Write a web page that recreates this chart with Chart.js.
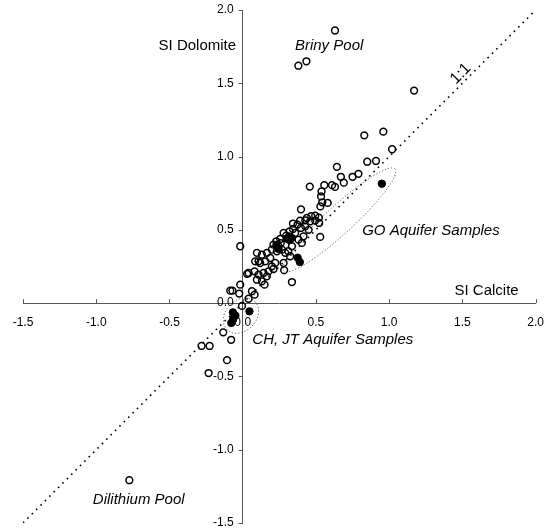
<!DOCTYPE html>
<html><head><meta charset="utf-8">
<script src="https://cdn.jsdelivr.net/npm/chart.js@4/dist/chart.umd.min.js"></script>
<style>html,body{margin:0;padding:0;background:#fff}#wrap{width:548px;height:530px}</style>
</head><body><div id="wrap"><canvas id="c" width="548" height="530"></canvas></div>
<script>
// ---- data ----
const axisTicks = [-1.5, -1.0, -0.5, 0.0, 0.5, 1.0, 1.5, 2.0];

const openX = [0.63,0.38,0.435,1.17,0.83,0.96,1.02,0.85,0.91,0.643,0.67,0.75,0.79,0.69,0.458,0.557,0.61,0.63,0.538,0.535,0.543,0.58,0.53,0.398,
  0.468,0.495,0.438,0.427,0.461,0.495,0.522,0.392,0.343,0.374,0.397,0.427,0.343,0.32,0.279,0.297,0.358,0.529,0.415,0.381,0.404,0.336,
  0.256,0.229,0.21,0.244,0.199,0.233,0.268,0.29,0.324,0.165,0.131,0.097,0.188,0.154,0.108,0.222,0.279,0.199,
  -0.017,0.085,0.119,0.04,0.03,0.081,0.108,0.142,0.097,0.131,0.165,0.176,0.21,0.149,-0.017,-0.085,-0.07,-0.024,0.063,0.081,0.04,
  0.283,0.336,-0.005,-0.133,-0.079,-0.281,-0.226,-0.107,-0.233,-0.774,0.311,0.26,0.45,0.52];
const openY = [1.86,1.62,1.65,1.45,1.145,1.17,1.05,0.965,0.97,0.93,0.862,0.862,0.882,0.822,0.795,0.805,0.805,0.793,0.762,0.728,0.688,0.684,0.66,0.64,
  0.593,0.597,0.581,0.565,0.558,0.563,0.547,0.563,0.543,0.536,0.513,0.524,0.506,0.49,0.479,0.461,0.479,0.452,0.456,0.433,0.411,0.388,
  0.438,0.422,0.399,0.388,0.365,0.354,0.365,0.343,0.32,0.343,0.331,0.343,0.308,0.285,0.285,0.274,0.274,0.251,
  0.388,0.285,0.274,0.206,0.2,0.217,0.195,0.206,0.16,0.149,0.183,0.217,0.233,0.126,0.126,0.085,0.085,0.065,0.081,0.058,0.03,
  0.225,0.144,-0.019,-0.199,-0.25,-0.292,-0.292,-0.389,-0.477,-1.208,0.354,0.41,0.50,0.583];

const filledX = [0.95,0.375,0.39,0.30,0.32,0.335,0.315,0.23,0.245,-0.067,-0.05,-0.078,-0.065,0.046];
const filledY = [0.815,0.31,0.28,0.44,0.43,0.445,0.455,0.395,0.37,-0.063,-0.085,-0.135,-0.11,-0.056];

const oneToOneX = [-1.5, 2.0];
const oneToOneY = [-1.5, 2.0];

// ellipses: centre x, centre y, semi-major, semi-minor, angle (deg, data space)
const ellipseCx = [0.66, -0.012];
const ellipseCy = [0.568, -0.085];
const ellipseA = [0.515, 0.135];
const ellipseB = [0.095, 0.104];
const ellipseAngle = [42.5, 45];

const noteText = ['SI Dolomite','Briny Pool','SI Calcite','GO Aquifer Samples','CH, JT Aquifer Samples','Dilithium Pool','1:1'];
const noteX = [-0.31, 0.59, 1.665, 1.285, 0.615, -0.71, 1.488];
const noteY = [1.755, 1.755, 0.085, 0.495, -0.25, -1.345, 1.565];
const noteItalic = [false, true, false, true, true, true, false];
const noteRotate = [0, 0, 0, 0, 0, 0, -45];

// ---- build ----
const FONT = '"Liberation Sans", Arial, Helvetica, sans-serif';
const toPts = (xs, ys) => xs.map((x, i) => ({x: x, y: ys[i]}));

const extras = {
  id: 'extras',
  beforeDatasetsDraw(chart) {
    const ctx = chart.ctx, xs = chart.scales.x, ys = chart.scales.y;
    ctx.save();
    ctx.strokeStyle = '#555';
    ctx.lineWidth = 1;
    ctx.setLineDash([1.2, 2]);
    for (let i = 0; i < ellipseCx.length; i++) {
      const cx = xs.getPixelForValue(ellipseCx[i]);
      const cy = ys.getPixelForValue(ellipseCy[i]);
      const t = ellipseAngle[i] * Math.PI / 180;
      const ax = xs.getPixelForValue(ellipseCx[i] + ellipseA[i] * Math.cos(t));
      const ay = ys.getPixelForValue(ellipseCy[i] + ellipseA[i] * Math.sin(t));
      const bx = xs.getPixelForValue(ellipseCx[i] - ellipseB[i] * Math.sin(t));
      const by = ys.getPixelForValue(ellipseCy[i] + ellipseB[i] * Math.cos(t));
      const ra = Math.hypot(ax - cx, ay - cy);
      const rb = Math.hypot(bx - cx, by - cy);
      const rot = Math.atan2(ay - cy, ax - cx);
      ctx.beginPath();
      ctx.ellipse(cx, cy, ra, rb, rot, 0, Math.PI * 2);
      ctx.stroke();
    }
    ctx.setLineDash([]);
    // tick marks: x ticks point up, y ticks point left
    const x0 = xs.getPixelForValue(0), y0 = ys.getPixelForValue(0);
    ctx.beginPath();
    xs.ticks.forEach(t => {
      const px = Math.round(xs.getPixelForValue(t.value)) + 0.5;
      ctx.moveTo(px, y0); ctx.lineTo(px, y0 - 4);
    });
    ys.ticks.forEach(t => {
      const py = Math.round(ys.getPixelForValue(t.value)) + 0.5;
      ctx.moveTo(x0, py); ctx.lineTo(x0 - 4, py);
    });
    ctx.stroke();
    // y tick labels, right-aligned left of the centred axis
    ctx.fillStyle = '#000';
    ctx.font = '12px ' + FONT;
    ctx.textAlign = 'right';
    ctx.textBaseline = 'middle';
    ys.ticks.forEach(t => {
      ctx.fillText(t.value.toFixed(1), x0 - 9, ys.getPixelForValue(t.value));
    });
    ctx.restore();
  },
  afterDatasetsDraw(chart) {
    const ctx = chart.ctx, xs = chart.scales.x, ys = chart.scales.y;
    ctx.save();
    ctx.fillStyle = '#000';
    ctx.textAlign = 'center';
    ctx.textBaseline = 'middle';
    noteText.forEach((txt, i) => {
      ctx.font = (noteItalic[i] ? 'italic ' : '') + (noteRotate[i] ? '16px ' : '15px ') + FONT;
      const px = xs.getPixelForValue(noteX[i]);
      const py = ys.getPixelForValue(noteY[i]);
      ctx.save();
      ctx.translate(px, py);
      ctx.rotate(noteRotate[i] * Math.PI / 180);
      ctx.fillText(txt, 0, 0);
      ctx.restore();
    });
    ctx.restore();
  }
};

new Chart(document.getElementById('c'), {
  type: 'scatter',
  data: {
    datasets: [
      { label: 'Filled', data: toPts(filledX, filledY), pointRadius: 3.7, pointBackgroundColor: '#000',
        pointBorderColor: '#000', pointBorderWidth: 1, order: 0 },
      { label: 'Open', data: toPts(openX, openY), pointRadius: 3.4, pointBackgroundColor: 'rgba(0,0,0,0)',
        pointBorderColor: '#000', pointBorderWidth: 1.5, order: 1 },
      { type: 'line', label: '1:1', data: toPts(oneToOneX, oneToOneY), borderColor: '#000', borderWidth: 1.6,
        borderDash: [1.6, 4.6], pointRadius: 0, fill: false, order: 2 }
    ]
  },
  options: {
    responsive: false,
    devicePixelRatio: 1,
    animation: false,
    events: [],
    layout: { padding: { left: 23, right: 12, top: 10, bottom: 7 } },
    plugins: { legend: { display: false }, tooltip: { enabled: false } },
    scales: {
      x: {
        type: 'linear', min: -1.5, max: 2.0, position: { y: 0 },
        afterBuildTicks: s => { s.ticks = axisTicks.map(v => ({ value: v })); },
        grid: { display: false },
        border: { display: true, color: '#555', width: 1 },
        ticks: { color: '#000', padding: 4, maxRotation: 0, autoSkip: false,
          font: { family: FONT, size: 12 }, callback: v => v.toFixed(1) }
      },
      y: {
        type: 'linear', min: -1.5, max: 2.0, position: { x: 0 },
        afterBuildTicks: s => { s.ticks = axisTicks.map(v => ({ value: v })); },
        grid: { display: false },
        border: { display: true, color: '#555', width: 1 },
        ticks: { display: false, font: { family: FONT, size: 12 } }
      }
    }
  },
  plugins: [extras]
});
</script></body></html>
